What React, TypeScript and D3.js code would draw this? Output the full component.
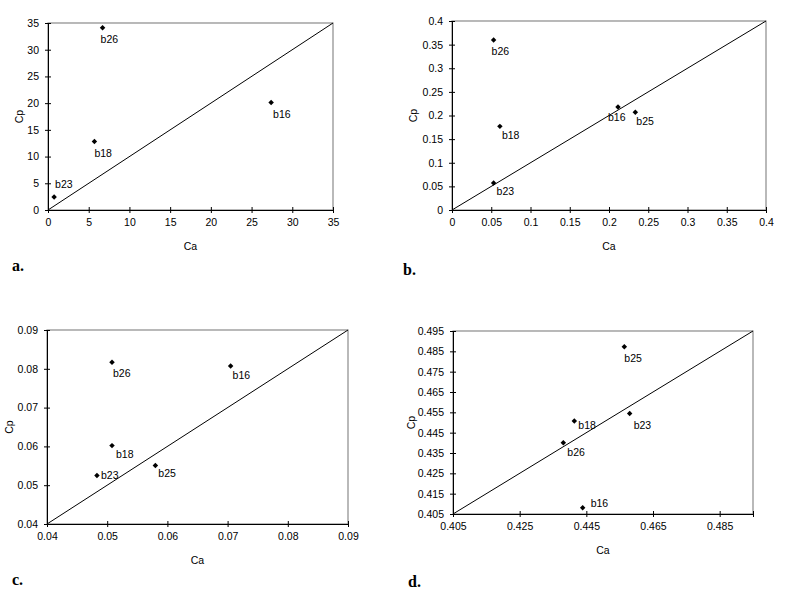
import React, { useRef, useEffect } from "react";
import * as d3 from "d3";

// sample names and values
const namesA = ["b26", "b16", "b18", "b23"];
const caA = [6.7, 27.4, 5.7, 0.75];
const cpA = [34.1, 20.1, 12.8, 2.45];
const ticksA = [0, 5, 10, 15, 20, 25, 30, 35];

const namesB = ["b26", "b18", "b23", "b16", "b25"];
const caB = [0.053, 0.061, 0.053, 0.2115, 0.2335];
const cpB = [0.36, 0.177, 0.057, 0.218, 0.207];
const ticksB = [0, 0.05, 0.1, 0.15, 0.2, 0.25, 0.3, 0.35, 0.4];

const namesC = ["b26", "b16", "b18", "b23", "b25"];
const caC = [0.0508, 0.0705, 0.0508, 0.0483, 0.058];
const cpC = [0.0817, 0.0807, 0.0602, 0.0525, 0.0551];
const ticksC = [0.04, 0.05, 0.06, 0.07, 0.08, 0.09];

const namesD = ["b25", "b23", "b18", "b26", "b16"];
const caD = [0.4564, 0.458, 0.4414, 0.4381, 0.4439];
const cpD = [0.4873, 0.4544, 0.4507, 0.44, 0.4081];
const xTicksD = [0.405, 0.425, 0.445, 0.465, 0.485];
const yTicksD = [0.405, 0.415, 0.425, 0.435, 0.445, 0.455, 0.465, 0.475, 0.485, 0.495];

const panelLetters = ["a.", "b.", "c.", "d."];

// label offsets (px) relative to each marker
const labelOffsets = [
  [[-2, 15], [2, 15], [0, 15], [1, -9]],
  [[-2, 15], [2, 13], [3, 12], [-10, 14], [1, 13]],
  [[1, 15], [2, 13], [4, 12], [4, 3], [3, 12]],
  [[0, 15], [4, 15], [4, 8], [4, 13], [8, -1]],
];

const frames = [
  { left: 48, right: 333, top: 23, bottom: 210, cpX: 23, letterX: 12, letterY: 271 },
  { left: 452, right: 766, top: 21, bottom: 210, cpX: 417, letterX: 403, letterY: 275 },
  { left: 47, right: 348, top: 330, bottom: 524, cpX: 13, letterX: 12, letterY: 585 },
  { left: 453, right: 753, top: 331, bottom: 514, cpX: 415, letterX: 408, letterY: 587 },
];

const panels = [
  { names: namesA, ca: caA, cp: cpA, domain: [0, 35], xTicks: ticksA, yTicks: ticksA, fmt: (d: number) => String(d) },
  { names: namesB, ca: caB, cp: cpB, domain: [0, 0.4], xTicks: ticksB, yTicks: ticksB, fmt: (d: number) => String(d) },
  { names: namesC, ca: caC, cp: cpC, domain: [0.04, 0.09], xTicks: ticksC, yTicks: ticksC, fmt: (d: number) => d.toFixed(2) },
  { names: namesD, ca: caD, cp: cpD, domain: [0.405, 0.495], xTicks: xTicksD, yTicks: yTicksD, fmt: (d: number) => d.toFixed(3) },
];

const App = () => {
  const svgRef = useRef<SVGSVGElement>(null);

  useEffect(() => {
    const svg = d3.select(svgRef.current);
    svg.selectAll("*").remove();
    const font = "'Liberation Sans', Arial, sans-serif";

    panels.forEach((p, i) => {
      const f = frames[i];
      const x = d3.scaleLinear().domain(p.domain).range([f.left, f.right]);
      const y = d3.scaleLinear().domain(p.domain).range([f.bottom, f.top]);
      const g = svg.append("g");

      // plot frame (grey top/right)
      g.append("rect")
        .attr("x", f.left).attr("y", f.top)
        .attr("width", f.right - f.left).attr("height", f.bottom - f.top)
        .attr("fill", "none").attr("stroke", "#8a8a8a").attr("stroke-width", 1.2);

      // y = x reference line
      g.append("line")
        .attr("x1", x(p.domain[0])).attr("y1", y(p.domain[0]))
        .attr("x2", x(p.domain[1])).attr("y2", y(p.domain[1]))
        .attr("stroke", "#000").attr("stroke-width", 1);

      const xAxis = g.append("g")
        .attr("transform", `translate(0,${f.bottom})`)
        .call(d3.axisBottom(x).tickValues(p.xTicks.concat(i === 3 ? [0.495] : [])).tickFormat((d) => i === 3 && +d === 0.495 ? "" : p.fmt(+d)).tickSizeInner(3).tickSizeOuter(0).tickPadding(6));
      xAxis.selectAll(".tick line").attr("y1", -3).attr("y2", 3);
      xAxis.selectAll("text").style("font-family", font).style("font-size", "10.5px").attr("fill", "#000");
      xAxis.select(".domain").attr("stroke", "#000");

      const yAxis = g.append("g")
        .attr("transform", `translate(${f.left},0)`)
        .call(d3.axisLeft(y).tickValues(p.yTicks).tickFormat((d) => p.fmt(+d)).tickSizeInner(3).tickSizeOuter(0).tickPadding(6));
      yAxis.selectAll(".tick line").attr("x1", -3).attr("x2", 3);
      yAxis.selectAll("text").style("font-family", font).style("font-size", "10.5px").attr("fill", "#000");
      yAxis.select(".domain").attr("stroke", "#000");

      // axis titles
      g.append("text")
        .attr("x", (f.left + f.right) / 2).attr("y", f.bottom + 40)
        .attr("text-anchor", "middle")
        .style("font-family", font).style("font-size", "10.5px")
        .text("Ca");
      g.append("text")
        .attr("transform", `translate(${f.cpX},${(f.top + f.bottom) / 2}) rotate(-90)`)
        .attr("text-anchor", "middle")
        .style("font-family", font).style("font-size", "10.5px")
        .text("Cp");

      // markers and labels
      p.names.forEach((name, j) => {
        const cx = x(p.ca[j]);
        const cy = y(p.cp[j]);
        g.append("path")
          .attr("d", d3.symbol(d3.symbolSquare, 15)())
          .attr("transform", `translate(${cx},${cy}) rotate(45)`)
          .attr("fill", "#000");
        const [dx, dy] = labelOffsets[i][j];
        g.append("text")
          .attr("x", cx + dx).attr("y", cy + dy)
          .style("font-family", font).style("font-size", "10.5px")
          .text(name);
      });

      svg.append("text")
        .attr("x", f.letterX).attr("y", f.letterY)
        .style("font-family", "'Liberation Serif', 'Times New Roman', serif")
        .style("font-size", "16px")
        .style("font-weight", "bold")
        .text(panelLetters[i]);
    });
  }, []);

  return (
    <svg ref={svgRef} width={797} height={599}
      style={{ position: "absolute", left: 0, top: 0, background: "#fff" }} />
  );
};

export default App;
